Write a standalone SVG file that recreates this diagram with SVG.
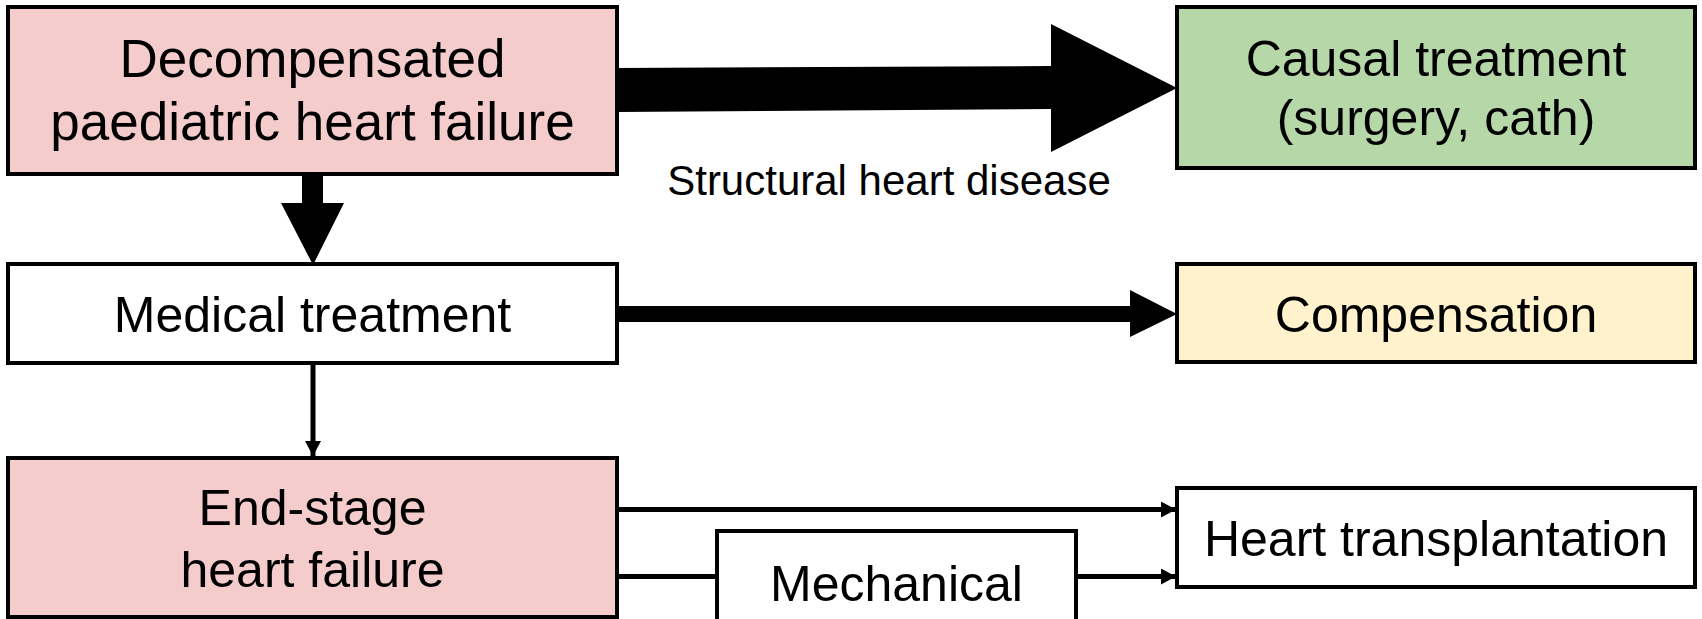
<svg xmlns="http://www.w3.org/2000/svg" width="1702" height="619" viewBox="0 0 1702 619">
  <defs>
    <style>
      .box { stroke: #000; stroke-width: 4; }
      .pink { fill: #F4CCCC; }
      .green { fill: #B6D7A8; }
      .yellow { fill: #FFF2CC; }
      .white { fill: #FFFFFF; }
      .t { font-family: "Liberation Sans", Arial, sans-serif; fill: #000; text-anchor: middle; }
      .t53 { font-size: 53px; }
      .t50 { font-size: 50px; }
      .t42 { font-size: 42px; }
      .thin { stroke: #000; stroke-width: 5; fill: none; }
      .solid { fill: #000; stroke: none; }
    </style>
    <marker id="ah" markerUnits="userSpaceOnUse" markerWidth="15" markerHeight="16" refX="15" refY="8" orient="auto" viewBox="0 0 15 16">
      <path d="M0,0 L15,8 L0,16 z" fill="#000"/>
    </marker>
  </defs>
  <rect width="1702" height="619" fill="#FFFFFF"/>

  <g id="connectors">
    <polygon class="solid" points="617,68 1051,66 1051,24 1177,88 1051,152 1051,109 617,112"/>
    <polygon class="solid" points="302,174 323,174 323,203 344,203 313,265 281,203 302,203"/>
    <polygon class="solid" points="617,306 1130,306 1130,290 1177,314 1130,337 1130,322 617,322"/>
    <line class="thin" x1="313" y1="363" x2="313" y2="456" marker-end="url(#ah)"/>
    <line class="thin" x1="617" y1="509.5" x2="1176" y2="509.5" marker-end="url(#ah)"/>
    <line class="thin" x1="617" y1="576.5" x2="717" y2="576.5"/>
    <line class="thin" x1="1076" y1="576.5" x2="1176" y2="576.5" marker-end="url(#ah)"/>
    <text class="t t42" x="889" y="195">Structural heart disease</text>
  </g>

  <g id="node-decompensated">
    <rect class="box pink" x="8" y="7" width="609" height="167"/>
    <text class="t t53" x="312.5" y="77">Decompensated</text>
    <text class="t t53" x="312.5" y="140">paediatric heart failure</text>
  </g>

  <g id="node-causal">
    <rect class="box green" x="1177" y="7" width="518" height="161"/>
    <text class="t t50" x="1436" y="76">Causal treatment</text>
    <text class="t t50" x="1436" y="135">(surgery, cath)</text>
  </g>

  <g id="node-medical">
    <rect class="box white" x="8" y="264" width="609" height="99"/>
    <text class="t t50" x="312.5" y="332">Medical treatment</text>
  </g>

  <g id="node-compensation">
    <rect class="box yellow" x="1177" y="264" width="518" height="98"/>
    <text class="t t50" x="1436" y="332">Compensation</text>
  </g>

  <g id="node-endstage">
    <rect class="box pink" x="8" y="458" width="609" height="159"/>
    <text class="t t50" x="312.5" y="525">End-stage</text>
    <text class="t t50" x="312.5" y="587">heart failure</text>
  </g>

  <g id="node-transplant">
    <rect class="box white" x="1177" y="488" width="518" height="99"/>
    <text class="t t50" x="1436" y="556">Heart transplantation</text>
  </g>

  <g id="node-mechanical">
    <rect class="box white" x="717" y="531" width="359" height="110"/>
    <text class="t t50" x="896.5" y="601">Mechanical</text>
  </g>
</svg>
